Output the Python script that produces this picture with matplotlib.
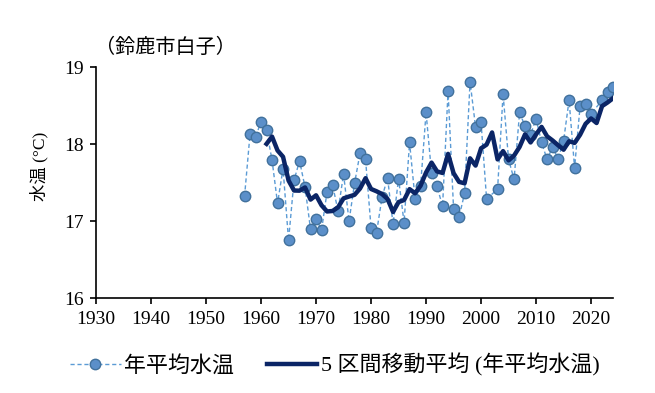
import matplotlib
matplotlib.use("Agg")
import matplotlib.pyplot as plt
import numpy as np
import pandas as pd

nan = np.nan
years = list(range(1957, 2025))
# 2002 and 2021 have no marker in the chart
water_temp = [
    17.32, 18.13, 18.09, 18.29, 18.18, 17.79, 17.23, 17.68, 16.75, 17.53,  # 1957-1966
    17.78, 17.44, 16.89, 17.03, 16.88, 17.38, 17.47, 17.13, 17.61, 17.00,  # 1967-1976
    17.49, 17.88, 17.80, 16.91, 16.85, 17.31, 17.56, 16.96, 17.55, 16.98,  # 1977-1986
    18.02, 17.29, 17.45, 18.41, 17.62, 17.45, 17.19, 18.69, 17.16, 17.05,  # 1987-1996
    17.36, 18.81, 18.22, 18.28, 17.29, nan, 17.41, 18.65, 17.80, 17.54,    # 1997-2006
    18.41, 18.23, 18.12, 18.33, 18.02, 17.80, 17.96, 17.81, 18.04, 18.57,  # 2007-2016
    17.69, 18.49, 18.52, 18.39, nan, 18.57, 18.68, 18.74,                  # 2017-2024
]
xticks = list(range(1930, 2021, 10))
yticks = [16, 17, 18, 19]

label_raw = "年平均水温"
label_ma = "5 区間移動平均 (年平均水温)"
title_text = "（鈴鹿市白子）"
ylabel_text = "水温 (°C)"

fonts = ["Liberation Serif", "Noto Sans CJK JP"]

s = pd.Series(water_temp, index=years)
# 5-year trailing mean, blank years skipped
ma = s.rolling(5, min_periods=4).mean()
ma[ma.index < years[0] + 4] = nan
obs = s.dropna()

fig = plt.figure(figsize=(6.55, 3.93), dpi=100)
ax = fig.add_axes([0.1466, 0.2417, 0.7894, 0.5878])

ax.plot(obs.index, obs.values, linestyle=(0, (3, 2)), linewidth=1.0, color="#5b9bd5",
        marker="o", markersize=7.5, markerfacecolor="#5b8fc9",
        markeredgecolor="#41719c", markeredgewidth=1.0, label=label_raw)
ax.plot(ma.index, ma.values, color="#0b2566", linewidth=3.2, label=label_ma)

ax.set_xlim(1930, 2024)
ax.set_ylim(16, 19)
ax.set_xticks(xticks)
ax.set_yticks(yticks)
for sp in ["top", "right"]:
    ax.spines[sp].set_visible(False)
for sp in ["left", "bottom"]:
    ax.spines[sp].set_linewidth(1.2)
ax.tick_params(direction="out", length=4, width=1.2, labelsize=14, pad=5)
for t in ax.get_xticklabels() + ax.get_yticklabels():
    t.set_family("Liberation Serif")

ax.set_ylabel(ylabel_text, family=fonts, fontsize=12.5)
ax.yaxis.set_label_coords(-0.092, 0.57)
fig.text(0.145, 0.88, title_text, family=["Noto Sans CJK JP"], fontsize=14.5,
         ha="left", va="center")

leg = fig.legend(loc="center", bbox_to_anchor=(0.511, 0.072), ncol=2, frameon=False,
                 prop={"family": fonts, "size": 15.8}, handlelength=2.3,
                 handletextpad=0.15, columnspacing=1.5)

fig.savefig("out.png", dpi=100)
